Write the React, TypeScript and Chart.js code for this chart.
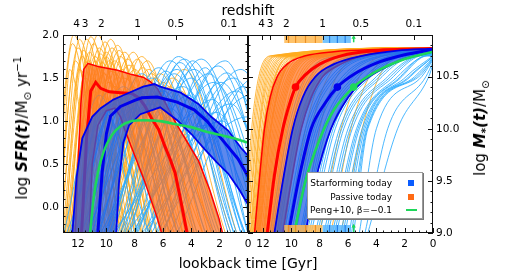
import React, { useEffect, useRef } from 'react';
import { Chart, registerables } from 'chart.js';

Chart.register(...registerables);

const FONT = 'DejaVu Sans';

// ---------- axis ranges & ticks ----------
const T_MAX = 13.06;
const SFR_MIN = -0.3;
const SFR_MAX = 2.0;
const MASS_MIN = 9.0;
const MASS_MAX = 10.9;

const timeTicks = [0, 2, 4, 6, 8, 10, 12];
const timeMinorTicks = [0.5, 1, 1.5, 2.5, 3, 3.5, 4.5, 5, 5.5, 6.5, 7, 7.5, 8.5, 9, 9.5, 10.5, 11, 11.5, 12.5, 13];
const sfrTicks = [0, 0.5, 1.0, 1.5, 2.0];
const sfrMinorTicks = [-0.2, -0.1, 0.1, 0.2, 0.3, 0.4, 0.6, 0.7, 0.8, 0.9, 1.1, 1.2, 1.3, 1.4, 1.6, 1.7, 1.8, 1.9];
const massTicks = [9.0, 9.5, 10.0, 10.5];
const massMinorTicks = [9.1, 9.2, 9.3, 9.4, 9.6, 9.7, 9.8, 9.9, 10.1, 10.2, 10.3, 10.4, 10.6, 10.7, 10.8];
const redshiftLabels = ['4', '3', '2', '1', '0.5', '0.1'];
const redshiftLookback = [12.1, 11.5, 10.35, 7.8, 5.1, 1.35];

// ---------- left panel: log SFR(t) ----------
// [lookback time, log SFR]
const sfSfrUpper = [[12.4, -0.3], [12.1, 0.35], [11.7, 0.8], [11.0, 1.05], [10.4, 1.15], [9.5, 1.25], [8.8, 1.3], [7.4, 1.4], [6.6, 1.43], [6.2, 1.4], [4.75, 1.33], [3.5, 1.2], [2.6, 1.05], [1.4, 0.89], [0.5, 0.69], [0, 0.6]];
const sfSfrLower = [[9.3, -0.3], [9.1, 0.3], [8.8, 0.75], [8.4, 0.95], [7.6, 1.08], [6.2, 1.16], [5.0, 1.01], [4.0, 0.85], [3.1, 0.68], [2.2, 0.52], [1.4, 0.39], [0.6, 0.2], [0, 0.03]];
const sfSfrMedian = [[10.6, -0.3], [10.3, 0.4], [10.0, 0.85], [9.7, 1.06], [9.0, 1.17], [8.0, 1.24], [7.5, 1.27], [6.4, 1.28], [5.0, 1.22], [3.8, 1.13], [2.9, 1.0], [2.1, 0.84], [1.4, 0.7], [0.7, 0.56], [0, 0.36]];
const pasSfrUpper = [[12.2, -0.3], [12.0, 0.5], [11.8, 1.2], [11.6, 1.6], [11.3, 1.67], [10.5, 1.63], [9.2, 1.59], [8.2, 1.54], [7.4, 1.51], [6.9, 1.46], [6.4, 1.38], [5.8, 1.2], [5.1, 0.98], [4.3, 0.76], [3.5, 0.54], [2.7, 0.2], [2.05, -0.13], [1.8, -0.3]];
const pasSfrMedian = [[11.75, -0.3], [11.4, 0.78], [11.1, 1.35], [10.75, 1.45], [10.4, 1.38], [9.8, 1.34], [9.0, 1.33], [8.2, 1.32], [7.7, 1.27], [7.3, 1.18], [6.8, 1.03], [6.3, 0.9], [5.9, 0.72], [5.5, 0.56], [5.15, 0.4], [4.8, 0.12], [4.4, -0.22], [4.3, -0.3]];
const pasSfrLower = [[11.2, -0.3], [11.0, 0.5], [10.6, 0.95], [10.0, 1.12], [9.4, 1.15], [9.0, 1.05], [8.7, 0.9], [8.0, 0.6], [7.3, 0.3], [6.4, -0.13], [6.1, -0.3]];
const pengSfr = [[11.15, -0.3], [10.9, 0.1], [10.6, 0.4], [10.2, 0.64], [9.6, 0.84], [9.0, 0.94], [8.2, 1.0], [7.4, 1.01], [6.2, 1.0], [5.0, 0.96], [4.0, 0.93], [3.0, 0.88], [2.0, 0.84], [1.0, 0.8], [0, 0.75]];

// individual histories: [t rising through bottom, t of peak, peak log SFR, t falling through bottom]
const passiveSfrHistories = [
  [13.8, 12.3, 2.0, 10.0], [13.5, 12.0, 1.85, 9.6], [13.3, 11.7, 1.75, 9.4], [13.0, 11.4, 1.95, 9.0],
  [12.8, 11.2, 1.8, 8.8], [12.6, 10.9, 1.9, 8.6], [12.5, 10.6, 2.0, 8.2], [12.3, 10.4, 1.78, 8.0],
  [12.2, 10.1, 1.92, 7.6], [12.0, 9.8, 1.7, 7.4], [11.9, 9.6, 1.85, 7.0], [11.7, 9.2, 1.88, 6.8],
  [11.5, 9.0, 1.75, 6.4], [11.3, 8.7, 1.8, 6.0], [11.2, 8.4, 1.65, 5.8], [11.0, 8.1, 1.8, 5.4],
  [10.8, 7.8, 1.72, 5.0], [10.6, 7.4, 1.62, 4.6], [10.4, 7.1, 1.7, 4.2], [10.2, 6.8, 1.55, 3.8],
  [9.8, 6.5, 1.5, 3.2], [9.5, 6.0, 1.45, 2.8], [13.2, 12.6, 1.6, 10.8], [12.9, 11.9, 1.6, 9.5],
  [12.4, 11.0, 1.5, 7.5], [12.1, 10.2, 1.55, 6.8], [11.8, 9.9, 1.45, 6.0], [11.4, 9.4, 1.4, 5.2],
  [11.0, 8.8, 1.5, 4.6], [10.7, 8.2, 1.4, 3.9], [10.3, 7.6, 1.35, 3.2], [9.9, 7.0, 1.3, 2.4],
  [9.3, 5.5, 1.4, 2.0], [8.6, 4.8, 1.35, 1.2], [12.0, 10.8, 1.7, 8.9], [11.6, 10.0, 1.75, 7.9],
  [13.6, 12.4, 1.9, 10.3], [13.4, 12.2, 1.7, 10.0], [13.2, 11.9, 1.95, 9.7], [13.1, 11.6, 1.82, 9.3],
  [12.9, 11.3, 1.7, 9.0], [12.7, 11.1, 1.98, 8.7], [12.6, 10.8, 1.75, 8.4], [12.4, 10.5, 1.85, 8.0],
  [12.3, 10.3, 1.68, 7.8], [12.1, 10.0, 1.8, 7.5], [11.9, 9.7, 1.95, 7.2], [11.8, 9.4, 1.7, 6.9],
  [11.6, 9.1, 1.82, 6.5], [11.4, 8.9, 1.6, 6.2], [11.1, 8.5, 1.72, 5.6], [10.9, 8.0, 1.6, 5.0],
  [10.5, 7.5, 1.75, 4.4], [10.1, 7.0, 1.6, 3.6], [9.6, 6.2, 1.55, 2.6], [9.0, 5.3, 1.5, 1.6],
  [8.4, 4.5, 1.6, 0.8], [12.7, 11.5, 1.5, 8.5], [12.2, 10.6, 1.62, 7.0], [11.5, 9.7, 1.58, 5.5],
];
const starformingSfrHistories = [
  [9.5, 5.8, 1.58, 1.8], [8.8, 4.5, 1.72, 0.3], [8.0, 3.3, 1.72, -1.0], [7.0, 2.1, 1.64, -2.0],
  [6.5, 1.9, 1.45, -2.2], [8.3, 4.8, 1.68, 1.0], [7.5, 3.9, 1.7, 0.0], [6.0, 1.5, 1.56, -2.5],
  [10.0, 6.8, 1.5, 3.0], [10.5, 7.2, 1.4, 3.6], [9.2, 5.2, 1.55, 1.2], [8.5, 4.0, 1.5, 0.5],
  [7.8, 2.8, 1.55, -1.5], [6.8, 1.0, 1.5, -3.0], [5.5, 0.3, 1.4, -4.0], [5.0, -0.5, 1.5, -5.0],
  [11.0, 7.8, 1.35, 4.2], [11.5, 8.5, 1.3, 5.0], [12.0, 9.5, 1.2, 6.0], [12.5, 10.2, 1.1, 7.0],
  [9.8, 6.0, 1.35, 2.2], [9.0, 4.2, 1.3, 0.8], [8.0, 2.5, 1.25, -0.8], [7.2, 1.2, 1.2, -2.0],
  [6.2, -0.2, 1.3, -3.5], [10.8, 6.5, 1.25, 3.0], [10.2, 5.5, 1.15, 2.0], [9.4, 3.5, 1.1, 0.2],
  [8.6, 1.8, 1.0, -1.0], [7.5, 0.0, 1.05, -3.0], [11.8, 8.0, 1.15, 4.8], [12.8, 9.0, 1.25, 5.5],
  [13.0, 10.5, 1.3, 7.8], [10.0, 5.0, 1.6, 1.4], [7.0, 3.0, 1.62, 0.0], [6.4, 0.8, 1.35, -2.8],
  [11.2, 7.5, 1.55, 3.8], [10.6, 6.3, 1.62, 2.4], [9.7, 5.5, 1.7, 1.0], [9.0, 4.9, 1.75, 0.5],
  [8.7, 3.8, 1.6, -0.5], [7.9, 2.4, 1.45, -1.8], [7.3, 1.6, 1.7, -2.0], [6.0, 0.5, 1.6, -3.5],
  [12.2, 8.8, 1.4, 5.0], [12.6, 9.8, 1.35, 6.4], [11.4, 6.9, 1.2, 2.5], [10.4, 4.6, 1.4, 0.2],
  [8.2, 2.2, 1.1, -1.2], [9.6, 3.0, 0.95, -1.0],
];

// ---------- right panel: log M*(t) ----------
const pasMassUpper = [[12.6, 9.0], [12.2, 9.6], [11.9, 10.0], [11.5, 10.3], [11.0, 10.5], [10.3, 10.62], [9.0, 10.7], [7.0, 10.74], [4.0, 10.76], [0, 10.77]];
const pasMassMedian = [[11.7, 9.0], [11.2, 9.55], [10.6, 10.0], [10.1, 10.25], [9.7, 10.4], [9.0, 10.52], [8.0, 10.62], [6.5, 10.7], [4.0, 10.75], [0, 10.77]];
const pasMassLower = [[10.6, 9.0], [10.0, 9.5], [9.3, 10.0], [8.6, 10.3], [7.8, 10.5], [6.5, 10.62], [5.0, 10.7], [3.0, 10.75], [0, 10.77]];
const sfMassUpper = [[11.2, 9.0], [10.6, 9.5], [9.9, 10.0], [9.2, 10.3], [8.3, 10.5], [7.0, 10.62], [5.0, 10.7], [2.5, 10.75], [0, 10.77]];
const sfMassMedian = [[10.2, 9.0], [9.5, 9.5], [8.6, 10.0], [7.6, 10.25], [6.75, 10.4], [5.5, 10.53], [4.0, 10.63], [2.0, 10.71], [0, 10.76]];
const sfMassLower = [[9.0, 9.0], [8.3, 9.5], [7.2, 10.0], [6.0, 10.3], [5.0, 10.45], [3.5, 10.58], [2.0, 10.67], [0, 10.74]];
const pengMass = [[9.8, 9.0], [9.0, 9.5], [8.0, 9.9], [7.0, 10.18], [5.6, 10.4], [4.0, 10.55], [2.0, 10.67], [0, 10.74]];
const massDots = { passive: [9.7, 10.4], starforming: [6.75, 10.4], peng: [5.6, 10.4] };

// individual growth curves: [t at 9.0, t at 10.0, t at 10.5, t at 10.7 (or null), final mass]
const passiveMassHistories = [
  [13.3, 12.8, 12.3, 11.5, 10.78], [13.1, 12.6, 12.1, 11.2, 10.78], [13.0, 12.5, 12.0, 11.0, 10.77], [12.9, 12.3, 11.8, 10.8, 10.78],
  [12.8, 12.2, 11.6, 10.5, 10.77], [12.7, 12.0, 11.4, 10.2, 10.78], [12.6, 11.9, 11.2, 10.0, 10.77], [12.5, 11.8, 11.1, 9.8, 10.78],
  [12.4, 11.7, 10.9, 9.5, 10.77], [12.3, 11.5, 10.7, 9.2, 10.78], [12.2, 11.4, 10.6, 9.0, 10.77], [12.0, 11.2, 10.3, 8.7, 10.78],
  [11.9, 11.0, 10.1, 8.4, 10.77], [11.7, 10.8, 9.9, 8.0, 10.78], [11.5, 10.5, 9.5, 7.6, 10.77], [11.3, 10.3, 9.2, 7.2, 10.77],
  [11.0, 10.0, 8.9, 6.8, 10.77], [10.8, 9.7, 8.6, 6.4, 10.76], [10.5, 9.4, 8.2, 6.0, 10.76], [10.2, 9.0, 7.8, 5.5, 10.76],
  [9.8, 8.6, 7.4, 5.0, 10.76], [9.2, 8.0, 6.8, 4.5, 10.75], [8.0, 6.5, 5.2, 3.5, 10.74], [6.5, 5.0, 3.8, 2.5, 10.74],
  [13.2, 12.7, 12.2, 11.4, 10.78], [13.0, 12.4, 11.9, 11.0, 10.78], [12.85, 12.25, 11.7, 10.6, 10.77], [12.75, 12.1, 11.5, 10.3, 10.78],
  [12.65, 11.95, 11.3, 10.1, 10.77], [12.55, 11.85, 11.15, 9.9, 10.77], [12.45, 11.75, 11.0, 9.6, 10.78], [12.35, 11.6, 10.8, 9.3, 10.77],
  [12.25, 11.45, 10.65, 9.1, 10.78], [12.1, 11.3, 10.45, 8.9, 10.77], [11.95, 11.1, 10.2, 8.5, 10.77], [11.8, 10.9, 10.0, 8.2, 10.78],
  [11.6, 10.65, 9.7, 7.8, 10.77], [11.4, 10.4, 9.35, 7.4, 10.77], [7.2, 5.8, 4.5, 3.0, 10.74],
];
const starformingMassHistories = [
  [11.5, 10.2, 9.0, 6.5, 10.76], [11.2, 9.9, 8.5, 6.0, 10.76], [11.0, 9.6, 8.0, 5.5, 10.76], [10.7, 9.3, 7.6, 5.0, 10.75],
  [10.5, 9.0, 7.2, 4.6, 10.75], [10.2, 8.7, 6.8, 4.2, 10.75], [10.0, 8.4, 6.4, 3.8, 10.75], [9.7, 8.1, 6.0, 3.4, 10.74],
  [9.4, 7.8, 5.6, 3.0, 10.74], [9.2, 7.5, 5.2, 2.7, 10.74], [8.9, 7.2, 4.8, 2.4, 10.73], [8.6, 6.9, 4.4, 2.1, 10.73],
  [8.3, 6.6, 4.0, 1.8, 10.73], [8.0, 6.3, 3.6, 1.5, 10.72], [7.7, 6.0, 3.2, 1.2, 10.72], [7.4, 5.7, 2.8, 0.9, 10.71],
  [7.1, 5.4, 2.5, 0.6, 10.71], [6.8, 5.2, 2.2, 0.4, 10.7], [6.5, 5.0, 1.9, null, 10.7], [6.2, 4.8, 1.6, null, 10.69],
  [5.9, 4.7, 1.3, null, 10.68], [5.6, 4.6, 1.0, null, 10.67], [5.2, 4.0, 0.8, null, 10.66], [4.8, 3.2, 0.5, null, 10.64],
  [4.6, 2.5, 0.3, null, 10.62],
  [11.35, 10.05, 8.7, 6.2, 10.76], [10.9, 9.45, 7.8, 5.2, 10.75], [10.35, 8.85, 7.0, 4.4, 10.75], [9.85, 8.25, 6.2, 3.6, 10.74],
  [9.3, 7.65, 5.4, 2.9, 10.74], [8.75, 7.05, 4.6, 2.2, 10.73], [8.15, 6.45, 3.8, 1.6, 10.72], [7.55, 5.85, 3.0, 1.0, 10.71],
  [6.95, 5.3, 2.3, 0.5, 10.7], [6.35, 4.9, 1.7, null, 10.69], [5.75, 4.65, 1.15, null, 10.67],
];

// formation-time bars (lookback time ranges) and stripes
const passiveBar = [10.5, 7.8];
const starformingBar = [7.8, 5.8];
const passiveBarStripes = [10.2, 9.7, 9.0, 8.3];
const starformingBarStripes = [7.3, 6.75, 6.2];
const pengArrow = 5.6;

// ---------- colours ----------
const C = {
  orangeThin: 'rgba(255,172,30,0.95)',
  blueThin: 'rgba(45,172,255,0.95)',
  orangeFill: 'rgba(255,112,30,0.72)',
  blueFill: 'rgba(30,90,230,0.72)',
  red: 'rgb(255,0,0)',
  blue: 'rgb(0,0,235)',
  green: 'rgb(30,215,90)',
};

const xy = (pts: number[][]) => pts.map(([x, y]) => ({ x, y }));

function lineDs(pts: number[][], color: string, width: number, order: number, extra: any = {}) {
  return {
    type: 'line',
    data: xy(pts),
    borderColor: color,
    backgroundColor: color,
    borderWidth: width,
    pointRadius: 0,
    fill: false,
    tension: 0,
    order,
    ...extra,
  };
}

function sfrHistory(h: number[]) {
  const [tRise, tPeak, peak, tFall] = h;
  return [[tFall, SFR_MIN], [tPeak, peak], [tRise, SFR_MIN]];
}

function massHistory(h: any[]) {
  const [t9, t10, t105, t107, fin] = h;
  const pts: number[][] = [[0, fin]];
  if (t107 !== null && t107 > 0) pts.push([t107, 10.7]);
  pts.push([t105, 10.5]);
  pts.push([t10, 10.0]);
  pts.push([t9, 9.0]);
  return pts;
}

const bandPlugin = {
  id: 'bands',
  beforeDatasetDraw(chart: any, args: any) {
    const ds: any = chart.data.datasets[args.index];
    if (!ds || !ds.band) return;
    const { ctx, chartArea: a } = chart;
    const xs = chart.scales.x;
    const ys = chart.scales.y;
    const poly = [...ds.band.upper, ...ds.band.lower.slice().reverse()];
    ctx.save();
    ctx.beginPath();
    ctx.rect(a.left, a.top, a.right - a.left, a.bottom - a.top);
    ctx.clip();
    ctx.beginPath();
    poly.forEach(([t, v]: number[], i: number) => {
      const px = xs.getPixelForValue(t);
      const py = ys.getPixelForValue(v);
      if (i === 0) ctx.moveTo(px, py);
      else ctx.lineTo(px, py);
    });
    ctx.closePath();
    ctx.fillStyle = ds.band.color;
    ctx.fill();
    ctx.restore();
  },
};

function framePlugin(yMajor: number[], yMinor: number[]) {
  return {
    id: 'frameTicks',
    afterDatasetsDraw(chart: any) {
      const { ctx, chartArea: a, scales } = chart;
      const x = scales.x;
      const y = scales.y;
      const xt = scales.xTop;
      ctx.save();
      ctx.strokeStyle = '#111';
      ctx.lineWidth = 1;
      ctx.beginPath();
      const seg = (x1: number, y1: number, x2: number, y2: number) => {
        ctx.moveTo(x1, y1);
        ctx.lineTo(x2, y2);
      };
      timeTicks.forEach((v) => {
        const p = Math.round(x.getPixelForValue(v)) + 0.5;
        seg(p, a.bottom, p, a.bottom - 5);
      });
      timeMinorTicks.forEach((v) => {
        const p = Math.round(x.getPixelForValue(v)) + 0.5;
        seg(p, a.bottom, p, a.bottom - 2.5);
      });
      redshiftLookback.forEach((v) => {
        const p = Math.round(xt.getPixelForValue(v)) + 0.5;
        seg(p, a.top, p, a.top + 5);
      });
      yMajor.forEach((v) => {
        const p = Math.round(y.getPixelForValue(v)) + 0.5;
        seg(a.left, p, a.left + 5, p);
        seg(a.right, p, a.right - 5, p);
      });
      yMinor.forEach((v) => {
        const p = Math.round(y.getPixelForValue(v)) + 0.5;
        seg(a.left, p, a.left + 2.5, p);
        seg(a.right, p, a.right - 2.5, p);
      });
      ctx.stroke();
      ctx.strokeRect(a.left + 0.5, a.top + 0.5, a.right - a.left - 1, a.bottom - a.top - 1);
      ctx.restore();
    },
  };
}

const tickFont = { family: FONT, size: 10.5 };

function xScales() {
  return {
    x: {
      type: 'linear', position: 'bottom', min: 0, max: T_MAX, reverse: true,
      grid: { display: false, drawTicks: false }, border: { display: false },
      ticks: { color: '#000', font: tickFont, padding: 5, maxRotation: 0, autoSkip: false, callback: (v: any) => String(v) },
      afterBuildTicks: (ax: any) => { ax.ticks = timeTicks.map((value) => ({ value })); },
      afterFit: (ax: any) => { ax.height = 44; },
    },
    xTop: {
      type: 'linear', position: 'top', min: 0, max: T_MAX, reverse: true,
      grid: { display: false, drawTicks: false }, border: { display: false },
      ticks: { color: '#000', font: tickFont, padding: 4, maxRotation: 0, autoSkip: false, callback: (_v: any, i: number) => redshiftLabels[i] },
      afterBuildTicks: (ax: any) => { ax.ticks = redshiftLookback.map((value) => ({ value })); },
      afterFit: (ax: any) => { ax.height = 35; },
    },
  };
}

const baseOptions = {
  responsive: false,
  animation: false,
  events: [],
  plugins: { legend: { display: false }, tooltip: { enabled: false } },
  elements: { line: { capBezierPoints: false }, point: { radius: 0 } },
};

function buildLeft(canvas: HTMLCanvasElement) {
  const datasets: any[] = [];
  passiveSfrHistories.forEach((h) => datasets.push(lineDs(sfrHistory(h), C.orangeThin, 0.9, 30, { cubicInterpolationMode: 'monotone' })));
  starformingSfrHistories.forEach((h) => datasets.push(lineDs(sfrHistory(h), C.blueThin, 0.9, 29, { cubicInterpolationMode: 'monotone' })));
  datasets.push(lineDs(pasSfrUpper, C.red, 1.5, 20, { band: { upper: pasSfrUpper, lower: pasSfrLower, color: C.orangeFill } }));
  datasets.push(lineDs(pasSfrLower, C.red, 1.5, 19));
  datasets.push(lineDs(pasSfrMedian, C.red, 3, 18));
  datasets.push(lineDs(sfSfrUpper, C.blue, 1.8, 15, { band: { upper: sfSfrUpper, lower: sfSfrLower, color: C.blueFill } }));
  datasets.push(lineDs(sfSfrLower, C.blue, 1.8, 14));
  datasets.push(lineDs(sfSfrMedian, C.blue, 3, 13));
  datasets.push(lineDs(pengSfr, C.green, 2.6, 10, { cubicInterpolationMode: 'monotone' }));

  return new Chart(canvas, {
    type: 'line',
    data: { datasets },
    options: {
      ...baseOptions,
      layout: { padding: { left: 0, right: 14, top: 0, bottom: 0 } },
      scales: {
        ...xScales(),
        y: {
          type: 'linear', position: 'left', min: SFR_MIN, max: SFR_MAX,
          grid: { display: false, drawTicks: false }, border: { display: false },
          ticks: { color: '#000', font: tickFont, padding: 4, callback: (v: any) => Number(v).toFixed(1) },
          afterBuildTicks: (ax: any) => { ax.ticks = sfrTicks.map((value) => ({ value })); },
          afterFit: (ax: any) => { ax.width = 63; },
        },
      },
    } as any,
    plugins: [bandPlugin, framePlugin(sfrTicks, sfrMinorTicks)],
  } as any);
}

function buildRight(canvas: HTMLCanvasElement) {
  const datasets: any[] = [];
  passiveMassHistories.forEach((h) => datasets.push(lineDs(massHistory(h), C.orangeThin, 0.9, 30, { cubicInterpolationMode: 'monotone' })));
  starformingMassHistories.forEach((h) => datasets.push(lineDs(massHistory(h), C.blueThin, 0.9, 29, { cubicInterpolationMode: 'monotone' })));
  datasets.push(lineDs(pasMassUpper, C.red, 1.5, 20, { cubicInterpolationMode: 'monotone', band: { upper: pasMassUpper, lower: pasMassLower, color: C.orangeFill } }));
  datasets.push(lineDs(pasMassLower, C.red, 1.5, 19, { cubicInterpolationMode: 'monotone' }));
  datasets.push(lineDs(pasMassMedian, C.red, 3, 18, { cubicInterpolationMode: 'monotone' }));
  datasets.push(lineDs(sfMassUpper, C.blue, 1.8, 15, { cubicInterpolationMode: 'monotone', band: { upper: sfMassUpper, lower: sfMassLower, color: C.blueFill } }));
  datasets.push(lineDs(sfMassLower, C.blue, 1.8, 14, { cubicInterpolationMode: 'monotone' }));
  datasets.push(lineDs(sfMassMedian, C.blue, 3, 13, { cubicInterpolationMode: 'monotone' }));
  datasets.push(lineDs(pengMass, C.green, 2.6, 10, { cubicInterpolationMode: 'monotone' }));
  // median dots
  datasets.push({ type: 'scatter', data: xy([massDots.passive]), pointRadius: 3.8, pointBackgroundColor: C.red, pointBorderWidth: 0, order: 5 });
  datasets.push({ type: 'scatter', data: xy([massDots.starforming]), pointRadius: 3.8, pointBackgroundColor: C.blue, pointBorderWidth: 0, order: 5 });
  datasets.push({ type: 'scatter', data: xy([massDots.peng]), pointRadius: 3.8, pointBackgroundColor: C.green, pointBorderWidth: 0, order: 5 });
  // formation-time bars at top and bottom
  const topLevel = 10.862;
  const botLevel = 9.038;
  [topLevel, botLevel].forEach((lev) => {
    datasets.push(lineDs(passiveBar.map((t) => [t, lev]), 'rgba(255,185,80,0.85)', 8, 4, { borderCapStyle: 'butt' }));
    datasets.push(lineDs(starformingBar.map((t) => [t, lev]), 'rgba(90,185,255,0.85)', 8, 4, { borderCapStyle: 'butt' }));
    datasets.push({ type: 'scatter', data: passiveBarStripes.map((t) => ({ x: t, y: lev })), pointStyle: 'line', rotation: 90, pointRadius: 4, pointBorderColor: 'rgba(235,140,30,0.9)', pointBorderWidth: 1.2, order: 3 });
    datasets.push({ type: 'scatter', data: starformingBarStripes.map((t) => ({ x: t, y: lev })), pointStyle: 'line', rotation: 90, pointRadius: 4, pointBorderColor: 'rgba(30,120,230,0.9)', pointBorderWidth: 1.2, order: 3 });
  });
  datasets.push(lineDs([[pengArrow, 10.83], [pengArrow, 10.88]], C.green, 1.5, 2));
  datasets.push({ type: 'scatter', data: xy([[pengArrow, 10.875]]), pointStyle: 'triangle', pointRadius: 2.5, pointBackgroundColor: C.green, pointBorderWidth: 0, order: 2 });
  datasets.push(lineDs([[pengArrow, 9.0], [pengArrow, 9.07]], C.green, 1.5, 2));
  datasets.push({ type: 'scatter', data: xy([[pengArrow, 9.065]]), pointStyle: 'triangle', pointRadius: 2.5, pointBackgroundColor: C.green, pointBorderWidth: 0, order: 2 });

  return new Chart(canvas, {
    type: 'line',
    data: { datasets },
    options: {
      ...baseOptions,
      layout: { padding: { left: 12, right: 0, top: 0, bottom: 0 } },
      scales: {
        ...xScales(),
        y: {
          type: 'linear', position: 'right', min: MASS_MIN, max: MASS_MAX,
          grid: { display: false, drawTicks: false }, border: { display: false },
          ticks: { color: '#000', font: tickFont, padding: 3, callback: (v: any) => Number(v).toFixed(1) },
          afterBuildTicks: (ax: any) => { ax.ticks = massTicks.map((value) => ({ value })); },
          afterFit: (ax: any) => { ax.width = 76; },
        },
      },
    } as any,
    plugins: [bandPlugin, framePlugin(massTicks, massMinorTicks)],
  } as any);
}

export default function App() {
  const leftRef = useRef<HTMLCanvasElement>(null);
  const rightRef = useRef<HTMLCanvasElement>(null);

  useEffect(() => {
    const l = buildLeft(leftRef.current!);
    const r = buildRight(rightRef.current!);
    return () => {
      l.destroy();
      r.destroy();
    };
  }, []);

  const legendRow = (label: string, top: number, marker: React.ReactNode) => (
    <div style={{ position: 'absolute', right: 0, top, height: 13, display: 'flex', alignItems: 'center', whiteSpace: 'nowrap' }}>
      <span style={{ fontSize: 9, marginRight: 8 }}>{label}</span>
      <span style={{ width: 22, display: 'flex', justifyContent: 'center' }}>{marker}</span>
    </div>
  );

  return (
    <div style={{ position: 'absolute', left: 0, top: 0, width: 509, height: 277, background: '#fff', fontFamily: FONT, color: '#000', overflow: 'hidden' }}>
      <canvas ref={leftRef} width={262} height={277} style={{ position: 'absolute', left: 0, top: 0, width: 262, height: 277 }} />
      <canvas ref={rightRef} width={273} height={277} style={{ position: 'absolute', left: 236, top: 0, width: 273, height: 277 }} />
      <div style={{ position: 'absolute', left: 148, width: 200, top: 2, textAlign: 'center', fontSize: 14, lineHeight: '16px' }}>redshift</div>
      <div style={{ position: 'absolute', left: 148, width: 200, top: 255, textAlign: 'center', fontSize: 14, lineHeight: '16px' }}>lookback time [Gyr]</div>
      <div style={{ position: 'absolute', left: 22, top: 128, transform: 'translate(-50%,-50%) rotate(-90deg)', whiteSpace: 'nowrap', fontSize: 15 }}>
        log <b><i>SFR(t)</i></b>/M<sub style={{ fontSize: '0.7em' }}>⊙</sub> yr<sup style={{ fontSize: '0.7em' }}>−1</sup>
      </div>
      <div style={{ position: 'absolute', left: 481, top: 128, transform: 'translate(-50%,-50%) rotate(-90deg)', whiteSpace: 'nowrap', fontSize: 15 }}>
        log <b><i>M<sub style={{ fontSize: '0.7em' }}>*</sub>(t)</i></b>/M<sub style={{ fontSize: '0.7em' }}>⊙</sub>
      </div>
      <div style={{ position: 'absolute', left: 307, top: 172, width: 116, height: 47, background: '#fff', border: '1px solid #999', boxShadow: '1px 1px 0 #777', boxSizing: 'border-box' }}>
        {legendRow('Starforming today', 3, <span style={{ width: 6, height: 6, background: '#0a5cff', display: 'block' }} />)}
        {legendRow('Passive today', 17, <span style={{ width: 6, height: 6, background: '#ff6a14', display: 'block' }} />)}
        {legendRow('Peng+10, β=−0.1', 30, <span style={{ width: 11, height: 2, background: C.green, display: 'block' }} />)}
      </div>
    </div>
  );
}
